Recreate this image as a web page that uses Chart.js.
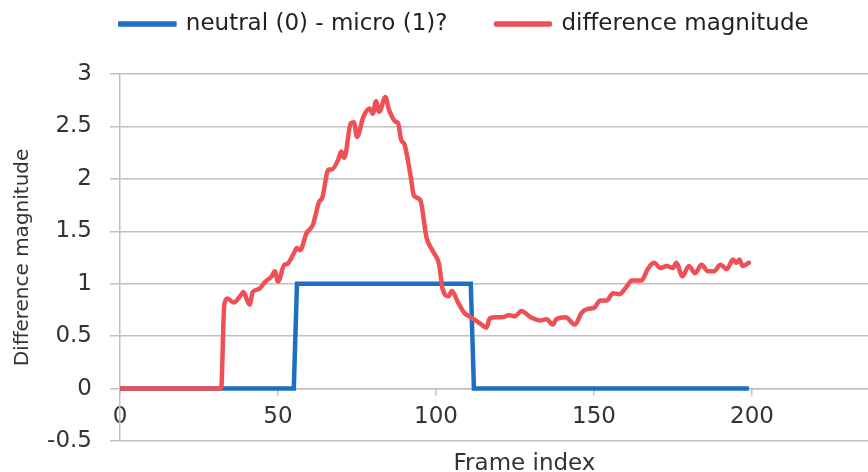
<!DOCTYPE html>
<html>
<head>
<meta charset="utf-8">
<script src="https://cdn.jsdelivr.net/npm/chart.js@4.4.1/dist/chart.umd.min.js"></script>
<style>
  html, body { margin: 0; padding: 0; background: #fff; overflow: hidden; }
  #wrap { width: 944px; height: 472px; }
</style>
</head>
<body>
<div id="wrap"><canvas id="line-chart"></canvas></div>
<script>
// state: neutral (0) or micro-expression (1)
const stateFrames = [0, 55, 56, 111, 112, 199];
const stateValues = [0, 0, 1, 1, 0, 0];

// difference magnitude
const diffFrames = [
  0, 32, 33, 34, 36, 38, 39, 41, 42, 44, 46, 48, 49, 50, 52, 53, 55, 56, 57, 59,
  61, 63, 64, 66, 67, 69, 70, 71, 73, 74, 75, 77, 79, 80, 81, 82, 84, 85, 87, 88,
  89, 90, 92, 93, 95, 97, 99, 101, 102, 104, 105, 107, 109, 111, 113, 114, 116, 117, 119, 121,
  123, 125, 127, 130, 133, 135, 137, 138, 141, 144, 146, 148, 150, 152, 154, 156, 158, 160, 162, 165,
  167, 169, 171, 173, 175, 176, 178, 180, 182, 184, 186, 188, 190, 192, 194, 195, 196, 197, 199
];
const diffValues = [
  0, 0, 0.80, 0.86, 0.82, 0.88, 0.92, 0.80, 0.92, 0.95, 1.02, 1.07, 1.12, 1.02, 1.18, 1.19, 1.29, 1.34, 1.32, 1.48,
  1.56, 1.78, 1.82, 2.09, 2.09, 2.18, 2.26, 2.20, 2.53, 2.54, 2.40, 2.59, 2.67, 2.62, 2.74, 2.64, 2.78, 2.67, 2.55, 2.53,
  2.37, 2.33, 2.02, 1.84, 1.80, 1.44, 1.31, 1.18, 0.96, 0.88, 0.93, 0.82, 0.72, 0.68, 0.64, 0.62, 0.58, 0.67, 0.68, 0.68,
  0.70, 0.69, 0.74, 0.68, 0.65, 0.66, 0.61, 0.66, 0.68, 0.61, 0.72, 0.76, 0.77, 0.84, 0.84, 0.91, 0.90, 0.96, 1.03, 1.03,
  1.14, 1.20, 1.15, 1.17, 1.15, 1.20, 1.07, 1.17, 1.10, 1.18, 1.12, 1.12, 1.18, 1.14, 1.23, 1.20, 1.23, 1.17, 1.20
];

const blue = "#1e6fc1";
const red = "#ef5055";
const gridColor = "#c0c0c0";
const textColor = "#333333";
const font = "'DejaVu Sans', sans-serif";

const toPoints = (xs, ys) => xs.map((x, i) => ({ x: x, y: ys[i] }));

new Chart(document.getElementById("line-chart"), {
  type: "line",
  data: {
    datasets: [
      {
        label: "neutral (0) - micro (1)?",
        data: toPoints(stateFrames, stateValues),
        borderColor: blue,
        backgroundColor: blue,
        borderWidth: 4.5,
        pointRadius: 0,
        tension: 0,
        order: 1,
      },
      {
        label: "difference magnitude",
        data: toPoints(diffFrames, diffValues),
        borderColor: red,
        backgroundColor: red,
        borderWidth: 4.5,
        pointRadius: 0,
        cubicInterpolationMode: "monotone",
        borderJoinStyle: "round",
        borderCapStyle: "round",
        order: 0,
      },
    ],
  },
  options: {
    responsive: true,
    maintainAspectRatio: false,
    animation: false,
    layout: { padding: { top: -36, right: 15, bottom: 31, left: 0 } },
    plugins: {
      tooltip: { enabled: false },
      // empty title used as a gap between legend and plot
      title: { display: true, text: "", weight: 500, padding: 0, font: { size: 23.75 } },
      legend: {
        position: "top",
        labels: {
          boxWidth: 54,
          boxHeight: 1,
          padding: 48.5,
          color: "#222",
          font: { family: font, size: 23 },
          sort: (a, b) => a.datasetIndex - b.datasetIndex,
        },
      },
    },
    scales: {
      x: {
        type: "linear",
        axis: "x",
        position: { y: 0 },
        min: 0,
        max: 256,
        ticks: {
          stepSize: 50,
          padding: 9,
          color: textColor,
          font: { family: font, size: 23 },
          callback: (v) => (v > 200 ? "" : v),
        },
        grid: { drawOnChartArea: false, tickLength: 6, color: gridColor, lineWidth: 1.5 },
        border: { color: gridColor, width: 1.5 },
        title: {
          display: true,
          text: "Frame index",
          color: textColor,
          font: { family: font, size: 23 },
          padding: { top: 10, bottom: 0 },
        },
        afterFit: (scale) => {
          scale.paddingRight = 0;
        },
      },
      y: {
        min: -0.5,
        max: 3,
        ticks: {
          stepSize: 0.5,
          padding: 18,
          color: textColor,
          font: { family: font, size: 23 },
          callback: (v) => String(v),
        },
        grid: { tickLength: 10, color: gridColor, lineWidth: 1.5 },
        border: { color: gridColor, width: 1.5 },
        title: {
          display: true,
          text: "Difference magnitude",
          color: textColor,
          font: { family: font, size: 20 },
          padding: { top: 11, bottom: 0 },
        },
        afterFit: (scale) => {
          scale.width = 120;
          scale.paddingBottom = 0;
        },
      },
    },
  },
});
</script>
</body>
</html>
